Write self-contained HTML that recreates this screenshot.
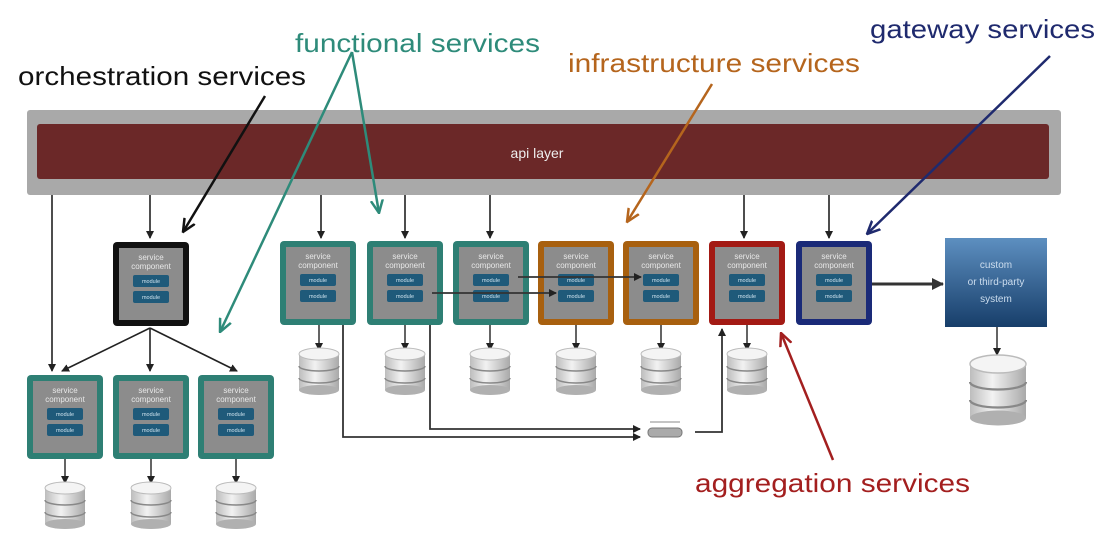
<!DOCTYPE html>
<html><head><meta charset="utf-8"><style>
html,body{margin:0;padding:0;background:#fff;}
svg{display:block;font-family:"Liberation Sans",sans-serif;}
.st{fill:#e8e8e8;font-size:8px;text-anchor:middle;}
.mt{fill:#cfe3ee;font-size:5.5px;text-anchor:middle;}
</style></head><body>
<svg width="1106" height="542" viewBox="0 0 1106 542" xmlns="http://www.w3.org/2000/svg">
<defs>
<marker id="ah" markerWidth="8" markerHeight="8" refX="7" refY="4" orient="auto" markerUnits="userSpaceOnUse"><path d="M0,0 L8,4 L0,8 z" fill="#222"/></marker>
<marker id="ahb" markerWidth="12" markerHeight="12" refX="11" refY="6" orient="auto" markerUnits="userSpaceOnUse"><path d="M0,0 L12,6 L0,12 z" fill="#333"/></marker>
<marker id="ak" markerWidth="14" markerHeight="14" refX="13" refY="7" orient="auto" markerUnits="userSpaceOnUse"><path d="M0,1 L13,7 L0,13" fill="none" stroke="#111" stroke-width="2.5"/></marker>
<marker id="atl" markerWidth="14" markerHeight="14" refX="13" refY="7" orient="auto" markerUnits="userSpaceOnUse"><path d="M0,1 L13,7 L0,13" fill="none" stroke="#2e8b7a" stroke-width="2.5"/></marker>
<marker id="aor" markerWidth="14" markerHeight="14" refX="13" refY="7" orient="auto" markerUnits="userSpaceOnUse"><path d="M0,1 L13,7 L0,13" fill="none" stroke="#b5651d" stroke-width="2.5"/></marker>
<marker id="anv" markerWidth="14" markerHeight="14" refX="13" refY="7" orient="auto" markerUnits="userSpaceOnUse"><path d="M0,1 L13,7 L0,13" fill="none" stroke="#1f2a6e" stroke-width="2.5"/></marker>
<marker id="ard" markerWidth="14" markerHeight="14" refX="13" refY="7" orient="auto" markerUnits="userSpaceOnUse"><path d="M0,1 L13,7 L0,13" fill="none" stroke="#a31f1f" stroke-width="2.5"/></marker>
<linearGradient id="db" x1="0" x2="1"><stop offset="0" stop-color="#bdbdbd"/><stop offset="0.4" stop-color="#f2f2f2"/><stop offset="1" stop-color="#a9a9a9"/></linearGradient>
<linearGradient id="cu" x1="0" y1="0" x2="0" y2="1"><stop offset="0" stop-color="#5d8fc0"/><stop offset="1" stop-color="#173e6a"/></linearGradient>
<g id="dbi">
<rect x="0" y="6" width="40" height="36" fill="url(#db)"/>
<ellipse cx="20" cy="42" rx="20" ry="5" fill="#b0b0b0"/>
<path d="M0,18 a20,5 0 0 0 40,0 M0,30 a20,5 0 0 0 40,0" fill="none" stroke="#888" stroke-width="1.5"/>
<ellipse cx="20" cy="6" rx="20" ry="6" fill="#f4f4f4" stroke="#bbb"/>
</g>
</defs>

<!-- api layer -->
<rect x="27" y="110" width="1034" height="85" rx="3" fill="#a9a9a9"/>
<rect x="37" y="124" width="1012" height="55" rx="3" fill="#6b2828"/>
<text x="537" y="158" fill="#eee" font-size="14" text-anchor="middle">api layer</text>

<!-- arrows from api -->
<g stroke="#222" stroke-width="1.6" fill="none" marker-end="url(#ah)">
<line x1="150" y1="195" x2="150" y2="238"/>
<line x1="321" y1="195" x2="321" y2="238"/>
<line x1="405" y1="195" x2="405" y2="238"/>
<line x1="490" y1="195" x2="490" y2="238"/>
<line x1="744" y1="195" x2="744" y2="238"/>
<line x1="829" y1="195" x2="829" y2="238"/>
<line x1="52" y1="195" x2="52" y2="371"/>
<line x1="150" y1="328" x2="62" y2="371"/>
<line x1="150" y1="328" x2="150" y2="371"/>
<line x1="150" y1="328" x2="237" y2="371"/>
</g>

<!-- box macro expanded -->
<g id="boxes">
<!-- top row -->
<g transform="translate(113,242)"><rect width="76" height="84" rx="4" fill="#111"/><rect x="6" y="6" width="64" height="72" fill="#8c8c8c"/><text class="st" x="38" y="18">service</text><text class="st" x="38" y="27">component</text><rect x="20" y="33" width="36" height="12" rx="2" fill="#1f5a7a"/><text class="mt" x="38" y="41">module</text><rect x="20" y="49" width="36" height="12" rx="2" fill="#1f5a7a"/><text class="mt" x="38" y="57">module</text></g>
<g transform="translate(280,241)"><rect width="76" height="84" rx="4" fill="#2e7f74"/><rect x="6" y="6" width="64" height="72" fill="#8c8c8c"/><text class="st" x="38" y="18">service</text><text class="st" x="38" y="27">component</text><rect x="20" y="33" width="36" height="12" rx="2" fill="#1f5a7a"/><text class="mt" x="38" y="41">module</text><rect x="20" y="49" width="36" height="12" rx="2" fill="#1f5a7a"/><text class="mt" x="38" y="57">module</text></g>
<g transform="translate(367,241)"><rect width="76" height="84" rx="4" fill="#2e7f74"/><rect x="6" y="6" width="64" height="72" fill="#8c8c8c"/><text class="st" x="38" y="18">service</text><text class="st" x="38" y="27">component</text><rect x="20" y="33" width="36" height="12" rx="2" fill="#1f5a7a"/><text class="mt" x="38" y="41">module</text><rect x="20" y="49" width="36" height="12" rx="2" fill="#1f5a7a"/><text class="mt" x="38" y="57">module</text></g>
<g transform="translate(453,241)"><rect width="76" height="84" rx="4" fill="#2e7f74"/><rect x="6" y="6" width="64" height="72" fill="#8c8c8c"/><text class="st" x="38" y="18">service</text><text class="st" x="38" y="27">component</text><rect x="20" y="33" width="36" height="12" rx="2" fill="#1f5a7a"/><text class="mt" x="38" y="41">module</text><rect x="20" y="49" width="36" height="12" rx="2" fill="#1f5a7a"/><text class="mt" x="38" y="57">module</text></g>
<g transform="translate(538,241)"><rect width="76" height="84" rx="4" fill="#a8600f"/><rect x="6" y="6" width="64" height="72" fill="#8c8c8c"/><text class="st" x="38" y="18">service</text><text class="st" x="38" y="27">component</text><rect x="20" y="33" width="36" height="12" rx="2" fill="#1f5a7a"/><text class="mt" x="38" y="41">module</text><rect x="20" y="49" width="36" height="12" rx="2" fill="#1f5a7a"/><text class="mt" x="38" y="57">module</text></g>
<g transform="translate(623,241)"><rect width="76" height="84" rx="4" fill="#a8600f"/><rect x="6" y="6" width="64" height="72" fill="#8c8c8c"/><text class="st" x="38" y="18">service</text><text class="st" x="38" y="27">component</text><rect x="20" y="33" width="36" height="12" rx="2" fill="#1f5a7a"/><text class="mt" x="38" y="41">module</text><rect x="20" y="49" width="36" height="12" rx="2" fill="#1f5a7a"/><text class="mt" x="38" y="57">module</text></g>
<g transform="translate(709,241)"><rect width="76" height="84" rx="4" fill="#a31a14"/><rect x="6" y="6" width="64" height="72" fill="#8c8c8c"/><text class="st" x="38" y="18">service</text><text class="st" x="38" y="27">component</text><rect x="20" y="33" width="36" height="12" rx="2" fill="#1f5a7a"/><text class="mt" x="38" y="41">module</text><rect x="20" y="49" width="36" height="12" rx="2" fill="#1f5a7a"/><text class="mt" x="38" y="57">module</text></g>
<g transform="translate(796,241)"><rect width="76" height="84" rx="4" fill="#1a2a78"/><rect x="6" y="6" width="64" height="72" fill="#8c8c8c"/><text class="st" x="38" y="18">service</text><text class="st" x="38" y="27">component</text><rect x="20" y="33" width="36" height="12" rx="2" fill="#1f5a7a"/><text class="mt" x="38" y="41">module</text><rect x="20" y="49" width="36" height="12" rx="2" fill="#1f5a7a"/><text class="mt" x="38" y="57">module</text></g>
<!-- bottom row -->
<g transform="translate(27,375)"><rect width="76" height="84" rx="4" fill="#2e7f74"/><rect x="6" y="6" width="64" height="72" fill="#8c8c8c"/><text class="st" x="38" y="18">service</text><text class="st" x="38" y="27">component</text><rect x="20" y="33" width="36" height="12" rx="2" fill="#1f5a7a"/><text class="mt" x="38" y="41">module</text><rect x="20" y="49" width="36" height="12" rx="2" fill="#1f5a7a"/><text class="mt" x="38" y="57">module</text></g>
<g transform="translate(113,375)"><rect width="76" height="84" rx="4" fill="#2e7f74"/><rect x="6" y="6" width="64" height="72" fill="#8c8c8c"/><text class="st" x="38" y="18">service</text><text class="st" x="38" y="27">component</text><rect x="20" y="33" width="36" height="12" rx="2" fill="#1f5a7a"/><text class="mt" x="38" y="41">module</text><rect x="20" y="49" width="36" height="12" rx="2" fill="#1f5a7a"/><text class="mt" x="38" y="57">module</text></g>
<g transform="translate(198,375)"><rect width="76" height="84" rx="4" fill="#2e7f74"/><rect x="6" y="6" width="64" height="72" fill="#8c8c8c"/><text class="st" x="38" y="18">service</text><text class="st" x="38" y="27">component</text><rect x="20" y="33" width="36" height="12" rx="2" fill="#1f5a7a"/><text class="mt" x="38" y="41">module</text><rect x="20" y="49" width="36" height="12" rx="2" fill="#1f5a7a"/><text class="mt" x="38" y="57">module</text></g>
</g>

<!-- custom system -->
<rect x="945" y="238" width="102" height="89" fill="url(#cu)"/>
<text x="996" y="268" fill="#cde" font-size="10" text-anchor="middle">custom</text>
<text x="996" y="285" fill="#cde" font-size="10" text-anchor="middle">or third-party</text>
<text x="996" y="302" fill="#cde" font-size="10" text-anchor="middle">system</text>
<line x1="872" y1="284" x2="943" y2="284" stroke="#333" stroke-width="3" marker-end="url(#ahb)"/>

<!-- db arrows -->
<g stroke="#222" stroke-width="1.4" fill="none" marker-end="url(#ah)">
<line x1="319" y1="325" x2="319" y2="350"/>
<line x1="405" y1="325" x2="405" y2="350"/>
<line x1="490" y1="325" x2="490" y2="350"/>
<line x1="576" y1="325" x2="576" y2="350"/>
<line x1="661" y1="325" x2="661" y2="350"/>
<line x1="747" y1="325" x2="747" y2="350"/>
<line x1="65" y1="459" x2="65" y2="483"/>
<line x1="151" y1="459" x2="151" y2="483"/>
<line x1="236" y1="459" x2="236" y2="483"/>
<line x1="997" y1="327" x2="997" y2="355"/>
</g>
<g transform="translate(299,348)"><use href="#dbi"/></g>
<g transform="translate(385,348)"><use href="#dbi"/></g>
<g transform="translate(470,348)"><use href="#dbi"/></g>
<g transform="translate(556,348)"><use href="#dbi"/></g>
<g transform="translate(641,348)"><use href="#dbi"/></g>
<g transform="translate(727,348)"><use href="#dbi"/></g>
<g transform="translate(45,482)"><use href="#dbi"/></g>
<g transform="translate(131,482)"><use href="#dbi"/></g>
<g transform="translate(216,482)"><use href="#dbi"/></g>
<g transform="translate(970,355) scale(1.4,1.5)"><use href="#dbi"/></g>

<!-- internal flows -->
<g stroke="#333" stroke-width="1.8" fill="none" marker-end="url(#ah)">
<line x1="432" y1="293" x2="556" y2="293"/>
<line x1="518" y1="277" x2="641" y2="277"/>
<polyline points="343,325 343,437 640,437"/>
<polyline points="430,325 430,429 640,429"/>
<polyline points="695,432 722,432 722,329"/>
</g>
<rect x="648" y="428" width="34" height="9" rx="4" fill="#aaa" stroke="#777"/>
<line x1="650" y1="422" x2="680" y2="422" stroke="#888" stroke-width="1"/>

<!-- label pointers -->
<line x1="265" y1="96" x2="183" y2="232" stroke="#111" stroke-width="2.5" marker-end="url(#ak)"/>
<line x1="352" y1="52" x2="379" y2="213" stroke="#2e8b7a" stroke-width="2.5" marker-end="url(#atl)"/>
<line x1="352" y1="52" x2="220" y2="332" stroke="#2e8b7a" stroke-width="2.5" marker-end="url(#atl)"/>
<line x1="712" y1="84" x2="627" y2="222" stroke="#b5651d" stroke-width="2.5" marker-end="url(#aor)"/>
<line x1="1050" y1="56" x2="867" y2="234" stroke="#1f2a6e" stroke-width="2.5" marker-end="url(#anv)"/>
<line x1="833" y1="460" x2="781" y2="333" stroke="#a31f1f" stroke-width="2.5" marker-end="url(#ard)"/>

<!-- labels -->
<text x="18" y="85" fill="#111" font-size="26" textLength="288" lengthAdjust="spacingAndGlyphs">orchestration services</text>
<text x="295" y="52" fill="#2e8b7a" font-size="26" textLength="245" lengthAdjust="spacingAndGlyphs">functional services</text>
<text x="568" y="72" fill="#b5651d" font-size="26" textLength="292" lengthAdjust="spacingAndGlyphs">infrastructure services</text>
<text x="870" y="38" fill="#1f2a6e" font-size="26" textLength="225" lengthAdjust="spacingAndGlyphs">gateway services</text>
<text x="695" y="492" fill="#a31f1f" font-size="26" textLength="275" lengthAdjust="spacingAndGlyphs">aggregation services</text>
</svg>
</body></html>
